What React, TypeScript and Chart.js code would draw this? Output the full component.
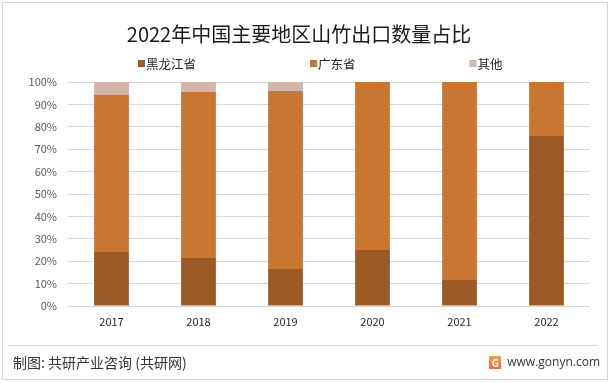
import React, { useEffect, useRef } from "react";
import { Chart, registerables } from "chart.js";

Chart.register(...registerables);

const titleText = "2022年中国主要地区山竹出口数量占比";
const categories = ["2017", "2018", "2019", "2020", "2021", "2022"];
const seriesNames = ["黑龙江省", "广东省", "其他"];
const heilongjiang = [24.1, 21.4, 16.5, 25.0, 11.6, 75.9];
const guangdong = [70.2, 74.1, 79.5, 75.0, 88.4, 24.1];
const others = [5.7, 4.5, 4.0, 0, 0, 0];
const seriesColors = ["#9C5A26", "#C87632", "#D3B5AA"];
const yTicks = [0, 10, 20, 30, 40, 50, 60, 70, 80, 90, 100];

const FONT = "'Noto Sans CJK SC', 'Noto Sans', sans-serif";

const legendPlugin = {
  id: "customLegend",
  afterDraw(chart: any) {
    const ctx = chart.ctx;
    ctx.save();
    ctx.font = `12.5px ${FONT}`;
    ctx.textBaseline = "middle";
    ctx.textAlign = "left";
    let x = 138;
    const y = 64;
    chart.data.datasets.forEach((ds: any) => {
      ctx.fillStyle = ds.backgroundColor;
      ctx.fillRect(x, y - 4, 7, 7);
      ctx.fillStyle = "#262626";
      ctx.fillText(ds.label, x + 8, y);
      const w = ctx.measureText(ds.label).width;
      x += 8 + w + 114;
    });
    ctx.restore();
  },
};

export default function App() {
  const ref = useRef<HTMLCanvasElement | null>(null);
  useEffect(() => {
    document.body.style.margin = "0";
    const data = [heilongjiang, guangdong, others];
    const chart = new Chart(ref.current as HTMLCanvasElement, {
      type: "bar",
      data: {
        labels: categories,
        datasets: seriesNames.map((name, i) => ({
          label: name,
          data: data[i],
          backgroundColor: seriesColors[i],
          borderWidth: 0,
          barPercentage: 0.4,
          categoryPercentage: 1,
        })),
      },
      options: {
        animation: false,
        responsive: false,
        maintainAspectRatio: false,
        layout: { padding: { left: 8, right: 20, top: 0, bottom: 47 } },
        plugins: {
          legend: { display: false },
          tooltip: { enabled: false },
          title: {
            display: true,
            text: titleText,
            color: "#1a1a1a",
            font: { family: FONT, size: 20, weight: "normal" as any },
            padding: { top: 22, bottom: 36 },
          },
        },
        scales: {
          x: {
            stacked: true,
            grid: { display: false, drawTicks: false },
            border: { display: false },
            ticks: {
              color: "#262626",
              font: { family: FONT, size: 11 },
              padding: 9,
            },
            afterFit: (s: any) => {
              s.height = 30;
            },
          },
          y: {
            stacked: true,
            min: 0,
            max: 100,
            afterBuildTicks: (s: any) => {
              s.ticks = yTicks.map((v) => ({ value: v }));
            },
            grid: { color: "#d9d9d9", lineWidth: 1, drawTicks: false },
            border: { display: false },
            ticks: {
              color: "#595959",
              font: { family: FONT, size: 11 },
              padding: 11,
              callback: (v: any) => `${v}%`,
            },
            afterFit: (s: any) => {
              s.width = 60;
            },
          },
        },
      },
      plugins: [legendPlugin],
    });
    return () => chart.destroy();
  }, []);

  return (
    <div
      style={{
        position: "relative",
        width: 610,
        height: 383,
        background: "#fff",
        overflow: "hidden",
        fontFamily: FONT,
      }}
    >
      <canvas ref={ref} width={610} height={383} style={{ position: "absolute", left: 0, top: 0 }} />
      <div
        style={{
          position: "absolute",
          left: 2,
          top: 2,
          width: 604,
          height: 376,
          border: "1px solid #d6d6d6",
          pointerEvents: "none",
        }}
      />
      <div
        style={{
          position: "absolute",
          left: 8,
          top: 345,
          width: 590,
          height: 1,
          background: "#d9d9d9",
        }}
      />
      <div
        style={{
          position: "absolute",
          left: 13,
          top: 352,
          fontSize: 14,
          lineHeight: "20px",
          color: "#333",
          whiteSpace: "nowrap",
        }}
      >
        制图: 共研产业咨询 (共研网)
      </div>
      <div
        style={{
          position: "absolute",
          right: 10,
          top: 352,
          height: 20,
          display: "flex",
          alignItems: "center",
          whiteSpace: "nowrap",
        }}
      >
        <div
          style={{
            width: 12,
            height: 13,
            marginRight: 6,
            background: "linear-gradient(180deg, #f6a04d, #ee6b3b)",
            borderRadius: 1,
            color: "#fff",
            fontSize: 10,
            lineHeight: "13px",
            textAlign: "center",
            fontWeight: "bold",
          }}
        >
          G
        </div>
        <span
          style={{
            fontSize: 12,
            lineHeight: "20px",
            color: "#333",
            fontFamily: "'Open Sans', sans-serif",
          }}
        >
          www.gonyn.com
        </span>
      </div>
    </div>
  );
}
